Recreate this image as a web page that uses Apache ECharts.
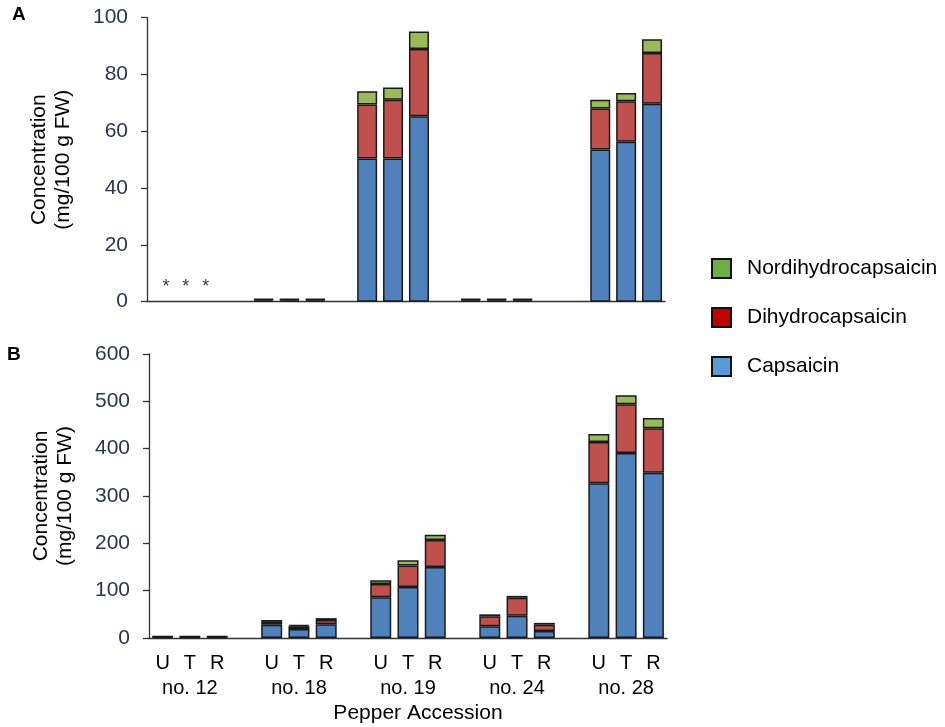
<!DOCTYPE html>
<html>
<head>
<meta charset="utf-8">
<script src="https://cdn.jsdelivr.net/npm/echarts@6/dist/echarts.min.js"></script>
<style>
  html, body { margin: 0; padding: 0; background: #ffffff; }
  #chart { width: 945px; height: 727px; }
</style>
</head>
<body>
<div id="chart"></div>
<script>
// ---------------- data ----------------
const accessions = ['no. 12', 'no. 18', 'no. 19', 'no. 24', 'no. 28'];
const treatments = ['U', 'T', 'R'];
const seriesNames = ['Capsaicin', 'Dihydrocapsaicin', 'Nordihydrocapsaicin'];

// Panel A (mg/100 g FW), order: accession x (U, T, R); null = not detected
const capsaicinA       = [null, null, null, 0.5, 0.5, 0.5, 50.4, 50.4, 65.3, 0.5, 0.5, 0.5, 53.6, 56.3, 69.7];
const dihydroA         = [null, null, null, 0.3, 0.3, 0.3, 19.0, 20.7, 23.7, 0.3, 0.3, 0.3, 14.4, 14.3, 17.9];
const nordihydroA      = [null, null, null, 0.2, 0.2, 0.2, 4.7, 4.3, 6.1, 0.2, 0.2, 0.2, 3.1, 2.9, 4.8];
const notDetectedA     = ['*', '*', '*'];   // no. 12 in panel A
const notDetectedLevel = 5;

// Panel B (mg/100 g FW)
const capsaicinB  = [2, 2, 2, 28, 19, 29, 86, 108, 150, 25, 47, 15, 327, 391, 349];
const dihydroB    = [1, 1, 1, 6, 6, 9, 28, 45, 57, 21, 38, 13, 87, 103, 94];
const nordihydroB = [0.5, 0.5, 0.5, 4, 3, 4, 8, 11, 11, 4, 4, 4, 17, 19, 22];

const yTicksA = [0, 20, 40, 60, 80, 100];
const yTicksB = [0, 100, 200, 300, 400, 500, 600];

// empty category slots after each accession group
const gapsA = [1, 1, 1, 2];
const gapsB = [1, 1, 1, 1];

// ---------------- build slots ----------------
function buildCats(gaps) {
  const cats = [];
  accessions.forEach((acc, g) => {
    treatments.forEach(t => cats.push(t === 'T' ? 'T\n' + acc : t));
    if (g < gaps.length) for (let k = 0; k < gaps[g]; k++) cats.push('');
  });
  return cats;
}
function spread(values, gaps) {
  const out = [];
  accessions.forEach((acc, g) => {
    for (let i = 0; i < 3; i++) out.push(values[g * 3 + i]);
    if (g < gaps.length) for (let k = 0; k < gaps[g]; k++) out.push(null);
  });
  return out;
}
const catsA = buildCats(gapsA);
const catsB = buildCats(gapsB);

const barColors = ['#4F81BD', '#C0504D', '#9BBB59'];
const legendColors = { 'Nordihydrocapsaicin': '#70AD47', 'Dihydrocapsaicin': '#C00000', 'Capsaicin': '#5B9BD5' };
const FONT = 'Liberation Sans, Arial, sans-serif';
const tickColor = '#2b3550';

function barSeries(name, data, gi, color, barWidth) {
  return {
    name: name,
    type: 'bar',
    xAxisIndex: gi, yAxisIndex: gi,
    stack: 'stack' + gi,
    barWidth: barWidth,
    data: data,
    itemStyle: { color: color, borderColor: '#1a1a1a', borderWidth: 1.5 },
    emphasis: { disabled: true }
  };
}

const valsA = [capsaicinA, dihydroA, nordihydroA];
const valsB = [capsaicinB, dihydroB, nordihydroB];
const series = [];
seriesNames.forEach((n, i) => series.push(barSeries(n, spread(valsA[i], gapsA), 0, barColors[i], 20)));
seriesNames.forEach((n, i) => series.push(barSeries(n, spread(valsB[i], gapsB), 1, barColors[i], 21)));
const starNudge = [6, 0, -6];
series.push({
  name: 'notDetected',
  type: 'scatter',
  xAxisIndex: 0, yAxisIndex: 0,
  symbolSize: 1,
  itemStyle: { color: 'rgba(0,0,0,0)' },
  data: notDetectedA.map((s, i) => ({ value: [i, notDetectedLevel], label: { formatter: s, offset: [starNudge[i], 0] } })),
  label: { show: true, position: 'inside', color: '#000', fontSize: 18, fontFamily: FONT },
  silent: true
});

function yAxis(gi, max, interval) {
  return {
    type: 'value', gridIndex: gi, min: 0, max: max, interval: interval,
    name: 'Concentration\n(mg/100 g FW)',
    nameLocation: 'middle', nameRotate: 90, nameGap: 72,
    nameTextStyle: { fontSize: 21, color: '#000', fontFamily: FONT, lineHeight: 24 },
    axisLine: { show: true, lineStyle: { color: '#333', width: 1.3 } },
    axisTick: { show: true, length: 6, lineStyle: { color: '#333', width: 1.3 } },
    axisLabel: { fontSize: 21, color: tickColor, fontFamily: FONT, margin: 19 },
    splitLine: { show: false }
  };
}

const option = {
  animation: false,
  backgroundColor: '#ffffff',
  title: [
    { text: 'A', left: 12, top: 5, padding: 0, textStyle: { fontSize: 19, fontWeight: 'bold', color: '#000', fontFamily: FONT } },
    { text: 'B', left: 7, top: 345, padding: 0, textStyle: { fontSize: 19, fontWeight: 'bold', color: '#000', fontFamily: FONT } }
  ],
  legend: {
    orient: 'vertical', left: 706, top: 253,
    itemWidth: 19, itemHeight: 19, itemGap: 28,
    icon: 'rect',
    textStyle: { fontSize: 21, color: '#000', fontFamily: FONT, padding: [0, 0, 0, 11] },
    data: ['Nordihydrocapsaicin', 'Dihydrocapsaicin', 'Capsaicin'].map(n => ({
      name: n, itemStyle: { color: legendColors[n], borderColor: '#111', borderWidth: 2 }
    })),
    selectedMode: false
  },
  grid: [
    { left: 147, right: 280, top: 17.7, bottom: 425.3 },
    { left: 149, right: 278, top: 354, bottom: 89 }
  ],
  xAxis: [
    {
      type: 'category', gridIndex: 0, data: catsA,
      axisLine: { lineStyle: { color: '#333', width: 1.3 } },
      axisTick: { show: false }, axisLabel: { show: false }
    },
    {
      type: 'category', gridIndex: 1, data: catsB,
      name: 'Pepper Accession', nameLocation: 'middle', nameGap: 65,
      nameTextStyle: { fontSize: 21, color: '#000', fontFamily: FONT, padding: [0, 0, 0, 20] },
      axisLine: { lineStyle: { color: '#333', width: 1.3 } },
      axisTick: { show: false },
      axisLabel: { interval: 0, fontSize: 20, color: '#000', fontFamily: FONT, margin: 13, lineHeight: 25 }
    }
  ],
  yAxis: [yAxis(0, 100, 20), yAxis(1, 600, 100)],
  series: series
};

const chart = echarts.init(document.getElementById('chart'), null, { renderer: 'canvas' });
chart.setOption(option);
</script>
</body>
</html>
